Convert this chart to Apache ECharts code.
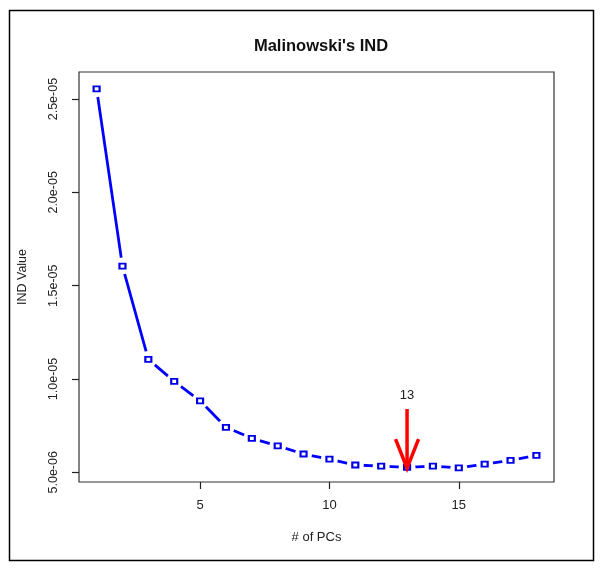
<!DOCTYPE html>
<html>
<head>
<meta charset="utf-8">
<script src="https://cdn.jsdelivr.net/npm/echarts@6/dist/echarts.min.js"></script>
<style>
html,body{margin:0;padding:0;background:#fff;}
#chart{width:606px;height:573px;}
</style>
</head>
<body>
<div id="chart"></div>
<script>
// ---- data ----
const pcs = [1,2,3,4,5,6,7,8,9,10,11,12,13,14,15,16,17,18];
const indValues = [2.555e-5,1.605e-5,1.105e-5,9.87e-6,8.83e-6,7.41e-6,6.82e-6,6.42e-6,5.98e-6,5.71e-6,5.39e-6,5.33e-6,5.26e-6,5.33e-6,5.24e-6,5.44e-6,5.64e-6,5.91e-6];
const xTickValues = [5,10,15];
const yTickValues = [5e-6,1e-5,1.5e-5,2e-5,2.5e-5];
const yTickLabels = ['5.0e-06','1.0e-05','1.5e-05','2.0e-05','2.5e-05'];
const arrowPC = 13;
const arrowFrom = 8.39e-6;
const arrowTo = 5.22e-6;
const arrowLabelY = 9.14e-6;
const arrowLabel = '13';
const xRange = [0.32, 18.68];
const yRange = [4.48e-6, 2.645e-5];

const FONT = '"Liberation Sans", Arial, sans-serif';
const pts = pcs.map((x,i)=>[x, indValues[i]]);

const chart = echarts.init(document.getElementById('chart'), null, {renderer:'canvas'});
chart.setOption({
  backgroundColor:'#fff',
  animation:false,
  title:{
    text:"Malinowski's IND",
    left:316, top:33, textAlign:'center',
    textStyle:{fontFamily:FONT, fontWeight:'bold', fontSize:16.5, color:'#111'}
  },
  grid:{left:79, right:52, top:72, bottom:91, show:true, borderColor:'#333', borderWidth:1.2, backgroundColor:'transparent'},
  xAxis:{
    type:'value', min:xRange[0], max:xRange[1],
    name:'# of PCs', nameLocation:'middle', nameGap:49,
    nameTextStyle:{fontFamily:FONT, fontSize:13, color:'#222'},
    axisLine:{show:false},
    splitLine:{show:false},
    axisTick:{show:true, inside:false, length:7, lineStyle:{color:'#222', width:1.2}, customValues:xTickValues},
    axisLabel:{fontFamily:FONT, fontSize:13, color:'#222', margin:17, customValues:xTickValues,
      formatter:(v)=>String(Math.round(v))}
  },
  yAxis:{
    type:'value', min:yRange[0], max:yRange[1],
    name:'IND Value', nameLocation:'middle', nameGap:50, nameRotate:90,
    nameTextStyle:{fontFamily:FONT, fontSize:12.5, color:'#222'},
    axisLine:{show:false},
    splitLine:{show:false},
    axisTick:{show:true, inside:false, length:7, lineStyle:{color:'#222', width:1.2}, customValues:yTickValues},
    axisLabel:{fontFamily:FONT, fontSize:12.5, color:'#222', margin:19, rotate:90, customValues:yTickValues,
      formatter:(v)=>{
        let idx = yTickValues.findIndex(t=>Math.abs(t-v) < 1e-9);
        return idx>=0 ? yTickLabels[idx] : '';
      }}
  },
  graphic:[{
    type:'rect', shape:{x:9.5, y:10.5, width:584, height:550},
    style:{fill:'none', stroke:'#000', lineWidth:1.5}, silent:true, z:-1
  }],
  series:[
    {
      type:'line', data:pts, showSymbol:false, symbol:'none',
      lineStyle:{color:'#0000ff', width:2.8}, z:2
    },
    {
      type:'scatter', data:pts, symbol:'circle', symbolSize:17,
      itemStyle:{color:'#fff', opacity:1}, z:3, silent:true
    },
    {
      type:'scatter', data:pts, symbol:'rect', symbolSize:[6,5],
      itemStyle:{color:'#fff', borderColor:'#0000e6', borderWidth:2, opacity:1}, z:4
    },
    {
      type:'custom', z:5,
      data:[[arrowPC, arrowFrom, arrowTo, arrowLabelY]],
      encode:{x:0, y:[1,2]},
      renderItem:(params, api)=>{
        const x = api.value(0);
        const p0 = api.coord([x, api.value(1)]);
        const p1 = api.coord([x, api.value(2)]);
        const pl = api.coord([x, api.value(3)]);
        const red = '#ff0000';
        return {
          type:'group',
          children:[
            {type:'line', shape:{x1:p0[0], y1:p0[1], x2:p1[0], y2:p1[1]}, style:{stroke:red, lineWidth:3.5}},
            {type:'polyline', shape:{points:[[p1[0]-11.5, p1[1]-29],[p1[0], p1[1]],[p1[0]+11.5, p1[1]-29]]},
             style:{stroke:red, lineWidth:3.5, fill:'none', lineJoin:'miter'}},
            {type:'text', x:pl[0], y:pl[1], style:{text:arrowLabel, fontFamily:FONT, fontSize:13, fill:'#222', align:'center', verticalAlign:'middle'}}
          ]
        };
      }
    }
  ]
});
</script>
</body>
</html>
